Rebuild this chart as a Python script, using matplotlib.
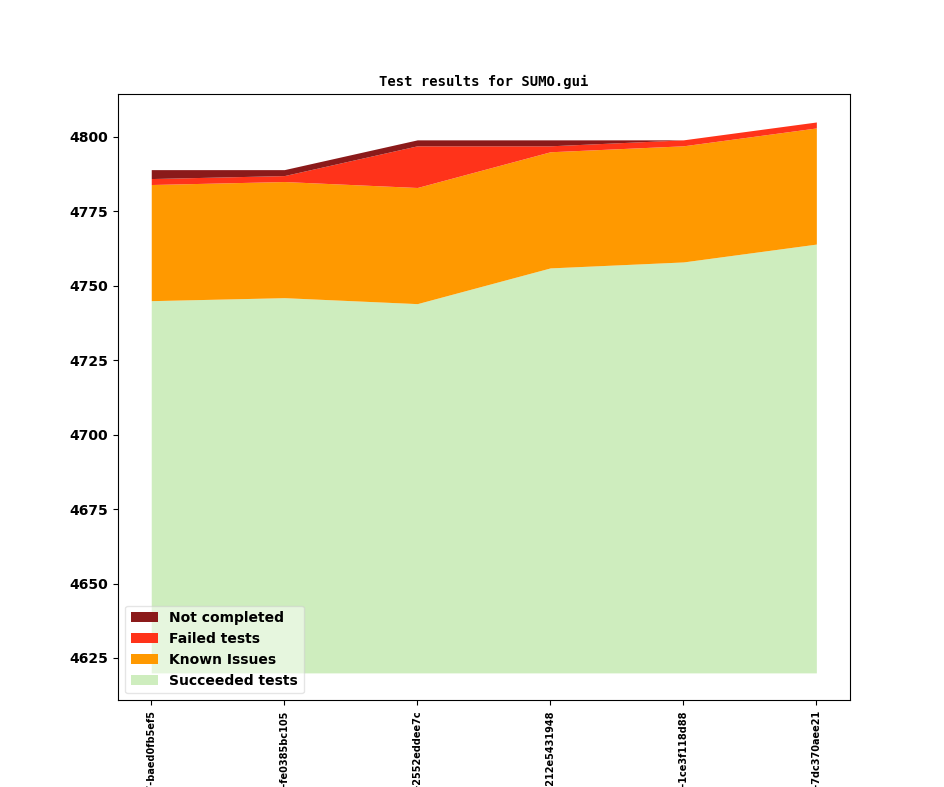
#!/usr/bin/env python3
import matplotlib
matplotlib.use("Agg")
import matplotlib.pyplot as plt
import numpy as np

# build labels (only the tail is visible in the original, rest runs off the figure)
builds = ["v1_19_0+0717-baed0fb5ef5",
          "v1_19_0+0725-fe0385bc105",
          "v1_19_0+0731-2552eddee7c",
          "v1_19_0+0742-212e5431948",
          "v1_19_0+0750-1ce3f118d88",
          "v1_19_0+0763-7dc370aee21"]
base = 4620
succeeded = [4745, 4746, 4744, 4756, 4758, 4764]
known_issues = [39, 39, 39, 39, 39, 39]
failed = [2, 2, 14, 2, 2, 2]
not_completed = [3, 2, 2, 2, 0, 0]

labels = ["Succeeded tests", "Known Issues", "Failed tests", "Not completed"]
colors = ["#ceedbe", "#ff9900", "#ff331a", "#8b1a1a"]

x = np.arange(len(builds))
fig, ax = plt.subplots(figsize=(9.44, 7.87), dpi=100)

lower = np.full(len(builds), base, dtype=float)
upper = np.array(succeeded, dtype=float)
handles = []
for i, (lab, col) in enumerate(zip(labels, colors)):
    if i == 1:
        upper = lower + np.array(known_issues)
    elif i == 2:
        upper = lower + np.array(failed)
    elif i == 3:
        upper = lower + np.array(not_completed)
    h = ax.fill_between(x, lower, upper, color=col, label=lab, linewidth=0)
    handles.append(h)
    lower = upper

ax.set_title("Test results for SUMO.gui", fontfamily="DejaVu Sans Mono",
             fontweight="bold", fontsize=10)
ax.set_xticks(x)
ax.set_xticklabels(builds, rotation=90, fontsize=7, fontweight="bold")
for t in ax.get_yticklabels():
    t.set_fontweight("bold")
    t.set_fontsize(10)
ax.legend(handles[::-1], labels[::-1], loc="lower left", framealpha=0.5,
          prop={"weight": "bold", "size": 10})

plt.savefig("out.png", dpi=100)
